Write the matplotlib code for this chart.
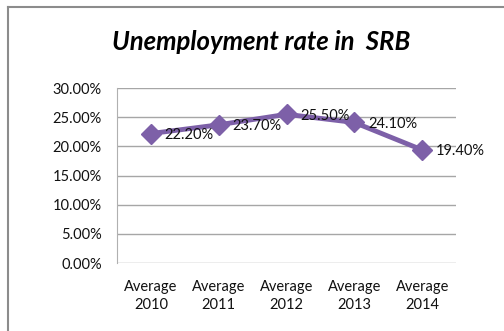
import matplotlib.pyplot as plt
from matplotlib.lines import Line2D
from matplotlib.ticker import FuncFormatter

years = ['Average\n2010', 'Average\n2011', 'Average\n2012', 'Average\n2013', 'Average\n2014']
rate = [22.20, 23.70, 25.50, 24.10, 19.40]
yticks = [0, 5, 10, 15, 20, 25, 30]

plt.rcParams['font.family'] = ['Lato', 'DejaVu Sans']
fig = plt.figure(figsize=(5.04, 3.31), dpi=100)
ax = fig.add_axes([0.232, 0.205, 0.673, 0.529])

purple = '#7D60A8'
x = range(len(rate))
ax.plot(x, rate, color=purple, lw=3.5, marker='D', ms=10, mfc=purple, mec=purple,
        solid_joinstyle='round', zorder=3)
for i, v in enumerate(rate):
    ax.annotate(f'{v:.2f}%', (i, v), xytext=(10, -1), textcoords='offset points',
                ha='left', va='center', fontsize=10.5, color='#111111', zorder=4)

ax.set_xlim(-0.5, len(rate) - 0.5)
ax.set_ylim(0, 30)
ax.set_yticks(yticks)
ax.yaxis.set_major_formatter(FuncFormatter(lambda v, p: f'{v:.2f}%'))
ax.set_xticks(list(x))
ax.set_xticklabels(years, linespacing=1.35)
ax.tick_params(axis='both', length=0, labelsize=10.5, colors='#111111')
ax.tick_params(axis='x', pad=12)
ax.tick_params(axis='y', pad=11)
ax.grid(axis='y', color='#a6a6a6', lw=1)
ax.set_axisbelow(True)
for s in ['top', 'right', 'bottom']:
    ax.spines[s].set_visible(False)
ax.spines['left'].set_color('#b0b0b0')

fig.text(0.518, 0.873, 'Unemployment rate in  SRB', ha='center', va='center',
         fontsize=18.5, fontweight='bold', fontstyle='italic')

# outer chart border (top and left edges)
fig.add_artist(Line2D([0.016, 1.0], [0.979, 0.979], color='#8c8c8c', lw=1.5))
fig.add_artist(Line2D([0.016, 0.016], [0.0, 0.979], color='#8c8c8c', lw=1.5))

fig.savefig('out.png', dpi=100)
